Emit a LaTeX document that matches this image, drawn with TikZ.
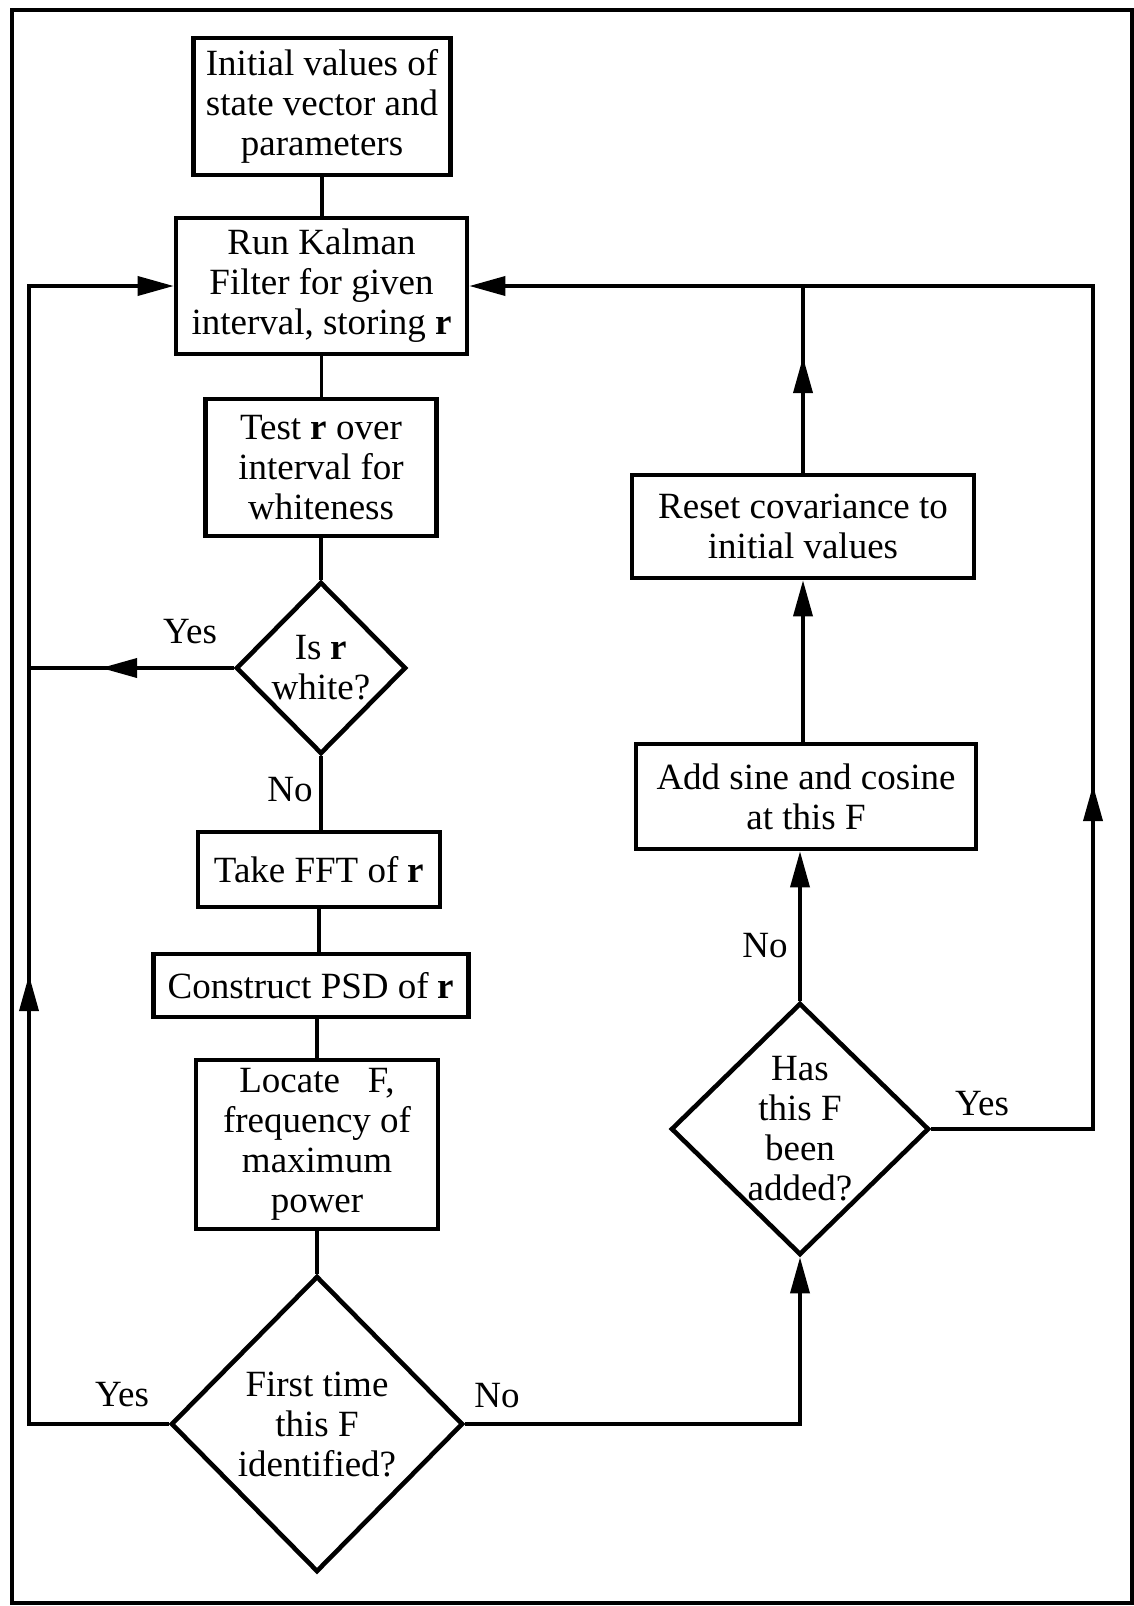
\documentclass[tikz,border=0pt]{standalone}
\usepackage{fontspec}
\setmainfont{Liberation Serif}
\usetikzlibrary{shapes.geometric, arrows.meta}

\tikzset{
  box/.style={draw, line width=2.3pt, align=center, inner sep=0pt},
  decision/.style={draw, diamond, line width=2.3pt, align=center, inner sep=-8pt},
  flow/.style={line width=1.8pt},
  tip/.style={-{Triangle[length=18pt,width=9.5pt]}},
  answer/.style={inner sep=0pt}
}

\begin{document}
\begin{tikzpicture}[x=0.5pt, y=-0.5pt, font=\fontsize{18.5}{20}\selectfont]
    \useasboundingbox (0,0) rectangle (1134,1606);

    % Outer frame
    \draw[line width=2.1pt] (12,10) rectangle (1132,1603);

    % Left column
    \node[box, minimum width=128.5pt, minimum height=68.5pt] (init) at (322,106.5)
        {Initial values of\\state vector and\\parameters};
    \node[box, minimum width=145.5pt, minimum height=68pt] (kalman) at (321.5,286)
        {Run Kalman\\Filter for given\\interval, storing \textbf{r}};
    \node[box, minimum width=115.5pt, minimum height=68.5pt] (test) at (321,467.5)
        {Test \textbf{r} over\\interval for\\whiteness};
    \node[decision, minimum width=85pt, minimum height=86pt] (white) at (321,668)
        {Is \textbf{r}\\white?};
    \node[box, minimum width=121pt, minimum height=37.5pt] (fft) at (319,869.5)
        {Take FFT of \textbf{r}};
    \node[box, minimum width=157.5pt, minimum height=31.5pt] (psd) at (311,985.5)
        {Construct PSD of \textbf{r}};
    \node[box, minimum width=121pt, minimum height=84.5pt] (locate) at (317,1144.5)
        {Locate\ \ \ F,\\frequency of\\maximum\\power};
    \node[decision, minimum width=146pt, minimum height=148pt] (first) at (317,1424)
        {First time\\this F\\identified?};

    % Right column
    \node[box, minimum width=171pt, minimum height=51.5pt] (reset) at (803,526.5)
        {Reset covariance to\\initial values};
    \node[box, minimum width=170pt, minimum height=52.5pt] (add) at (806,796.5)
        {Add sine and cosine\\at this F};
    \node[decision, minimum width=129pt, minimum height=126pt] (added) at (800,1129)
        {Has\\this F\\been\\added?};

    % Main chain
    \draw[flow] (init.south) -- (init.south |- kalman.north);
    \draw[flow] (kalman.south) -- (kalman.south |- test.north);
    \draw[flow] (test.south) -- (white.north);
    \draw[flow] (white.south) -- (white.south |- fft.north);
    \draw[flow] (fft.south) -- (fft.south |- psd.north);
    \draw[flow] (locate.north |- psd.south) -- (locate.north);
    \draw[flow] (locate.south) -- (first.north);

    % Loop points
    \coordinate (lbot) at (29,1424);
    \coordinate (lup) at (29,975);
    \coordinate (ltop) at (29,286);
    \coordinate (lyes) at (29,668);
    \coordinate (yestip) at (101,668);
    \coordinate (rbot) at (1093,1129);
    \coordinate (rup) at (1093,785);
    \coordinate (rtop) at (1093,286);
    \coordinate (ctip) at (803,357);
    \coordinate (ctop) at (803,286);

    % Yes branches back to the filter
    \draw[flow, tip] (first.west) -- (lbot) -- (ltop) -- (kalman.west);
    \draw[flow, tip] (lbot) -- (lup);
    \draw[flow] (white.west) -- (lyes);
    \draw[flow, tip] (white.west) -- (yestip);

    % No branch and right-hand loop
    \draw[flow, tip] (first.east) -| (added.south);
    \draw[flow, tip] (added.north) -- (added.north |- add.south);
    \draw[flow, tip] (reset.south |- add.north) -- (reset.south);
    \draw[flow] (reset.north) -- (ctop);
    \draw[flow, tip] (reset.north) -- (ctip);
    \draw[flow, tip] (added.east) -- (rbot) -- (rtop) -- (kalman.east);
    \draw[flow, tip] (rbot) -- (rup);

    % Branch labels
    \node[answer] (yes1) at (190,632) {Yes};
    \node[answer] (no1) at (290,790) {No};
    \node[answer] (yes2) at (122,1395) {Yes};
    \node[answer] (no2) at (497,1396) {No};
    \node[answer] (no3) at (765,946) {No};
    \node[answer] (yes3) at (982,1104) {Yes};
\end{tikzpicture}
\end{document}
